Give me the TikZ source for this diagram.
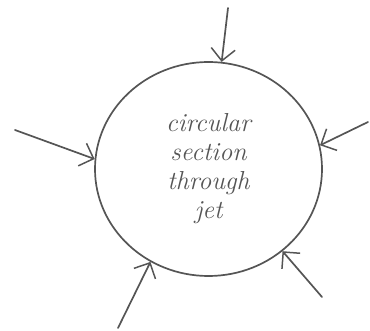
\documentclass[tikz,border=0pt]{standalone}
\usetikzlibrary{arrows.meta,shapes.geometric}
\definecolor{pencil}{HTML}{555555}
\tikzset{
  sketch/.style={draw=pencil,line width=1.7pt,line cap=round},
  push/.style={sketch,-{Straight Barb[length=12pt,width=24pt,line width=1.5pt]}}
}
\begin{document}
\begin{tikzpicture}[x=1pt,y=-1pt]
\useasboundingbox (0,0) rectangle (370,331);
\node[sketch,ellipse,minimum width=227pt,minimum height=214pt,
  text=pencil,align=center,font=\fontsize{26}{29}\selectfont\itshape]
  (jet) at (208.5,169) {circular\\section\\through\\jet};

\coordinate (top) at (228,8);
\coordinate (left) at (15,130);
\coordinate (right) at (368,122);
\coordinate (botleft) at (118,328);
\coordinate (botright) at (322,297);

\draw[push] (top) -- (jet.83);
\draw[push] (left) -- (jet.175);
\draw[push] (right) -- (jet.12);
\draw[push] (botleft) -- (jet.238);
\draw[push] (botright) -- (jet.312);
\end{tikzpicture}
\end{document}
